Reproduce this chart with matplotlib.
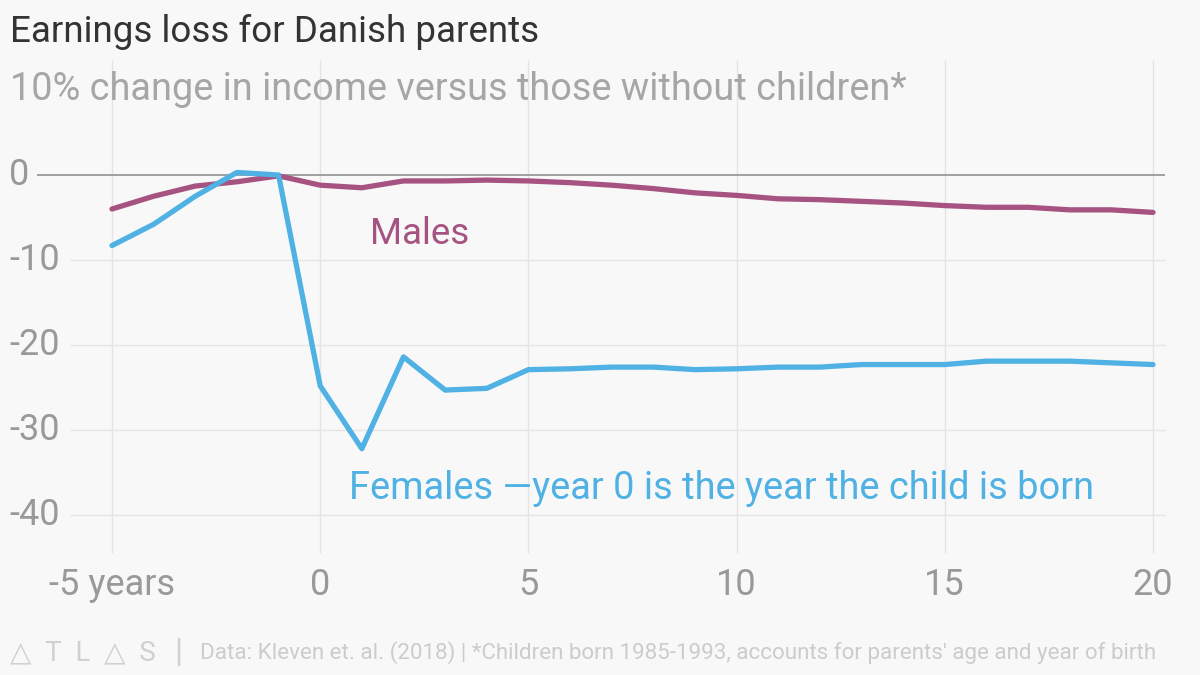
import matplotlib.pyplot as plt

# years relative to birth of first child
years = list(range(-5, 21))

males = [-4.0, -2.5, -1.3, -0.8, -0.1, -1.2, -1.5, -0.7, -0.7, -0.6, -0.7,
         -0.9, -1.2, -1.6, -2.1, -2.4, -2.8, -2.9, -3.1, -3.3, -3.6, -3.8,
         -3.8, -4.1, -4.1, -4.4]
females = [-8.3, -5.8, -2.5, 0.3, 0.0, -24.8, -32.2, -21.4, -25.3, -25.1, -22.9,
           -22.8, -22.6, -22.6, -22.9, -22.8, -22.6, -22.6, -22.3, -22.3, -22.3,
           -21.9, -21.9, -21.9, -22.1, -22.3]

x_ticks = [-5, 0, 5, 10, 15, 20]
x_tick_labels = ["-5 years", "0", "5", "10", "15", "20"]
y_ticks = [0, -10, -20, -30, -40]
y_tick_labels = ["0", "-10", "-20", "-30", "-40"]

BG = "#f8f8f8"
MALE_COLOR = "#a65381"
FEMALE_COLOR = "#50b1e4"
TICK_COLOR = "#999999"
GRID_COLOR = "#e4e4e4"

plt.rcParams["font.family"] = ["Roboto", "DejaVu Sans"]

fig = plt.figure(figsize=(12, 6.75), dpi=100, facecolor=BG)
ax = fig.add_axes([0, 0, 1, 1], facecolor=BG)

# pixel mapping: x=-5 at 112px, x=20 at 1153px; y=0 at 175px, 8.5px per unit
px_per_x = (1153 - 112) / 25
px_per_y = 8.5
ax.set_xlim(-5 - 112 / px_per_x, -5 + (1200 - 112) / px_per_x)
ax.set_ylim(-(675 - 175) / px_per_y, 175 / px_per_y)
ax.axis("off")

# grid
ax.vlines(x_ticks, -44.5, 13.5, color=GRID_COLOR, lw=1, zorder=0)
x_left = -5 - (112 - 70) / px_per_x
x_right = 20 + (1165 - 1153) / px_per_x
for yt in y_ticks[1:]:
    ax.hlines(yt, x_left, x_right, color=GRID_COLOR, lw=1, zorder=0)
ax.hlines(0, -5 - (112 - 37) / px_per_x, x_right, color="#999999", lw=1.3, zorder=1)

# tick labels
y_label_x = -5 - (112 - 9) / px_per_x
for yt, lab in zip(y_ticks, y_tick_labels):
    ax.text(y_label_x, yt, lab, ha="left", va="center", fontsize=26,
            color=TICK_COLOR)
for xt, lab in zip(x_ticks, x_tick_labels):
    ax.text(xt, -48.2, lab, ha="center", va="center", fontsize=26,
            color=TICK_COLOR)

# lines
ax.plot(years, males, color=MALE_COLOR, lw=3.8, solid_capstyle="round",
        solid_joinstyle="round", zorder=3)
ax.plot(years, females, color=FEMALE_COLOR, lw=3.8, solid_capstyle="round",
        solid_joinstyle="round", zorder=4)

ax.text(1.2, -6.9, "Males", color=MALE_COLOR, fontsize=26.5, ha="left",
        va="center")
ax.text(0.7, -36.9, "Females \u2014year 0 is the year the child is born",
        color=FEMALE_COLOR, fontsize=27.4, ha="left", va="center")

# title / subtitle
fig.text(10 / 1200, 1 - 32 / 675, "Earnings loss for Danish parents",
         fontsize=26.5, color="#333333", ha="left", va="center")
fig.text(10 / 1200, 1 - 90 / 675, "10% change in income versus those without children*",
         fontsize=27.3, color="#a6a6a6", ha="left", va="center")

# footer
fig.text(10 / 1200, 1 - 653 / 675, "\u25b3  T  L  \u25b3  S", fontsize=20,
         color="#d0d0d0", ha="left", va="center")
fig.text(178 / 1200, 1 - 653 / 675, "|", fontsize=24, color="#d0d0d0",
         ha="center", va="center")
fig.text(200 / 1200, 1 - 653 / 675,
         "Data: Kleven et. al. (2018) | *Children born 1985-1993, accounts for parents' age and year of birth",
         fontsize=16.1, color="#cccccc", ha="left", va="center")

fig.savefig("out.png", dpi=100, facecolor=BG)
